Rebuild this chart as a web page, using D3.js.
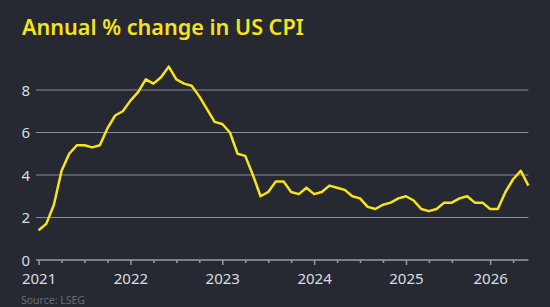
<!DOCTYPE html>
<html>
<head>
<meta charset="utf-8">
<script src="https://cdn.jsdelivr.net/npm/d3@7"></script>
<style>
  html, body { margin: 0; padding: 0; background: #262932; }
  svg { display: block; font-family: "Noto Sans", "Open Sans", sans-serif; }
</style>
</head>
<body>
<svg id="chart" width="550" height="307"></svg>
<script>
// Monthly readings, Jan 2021 - Jun 2026 (no Oct 2025 release)
const months = [
  "2021-01","2021-02","2021-03","2021-04","2021-05","2021-06","2021-07","2021-08","2021-09","2021-10","2021-11","2021-12",
  "2022-01","2022-02","2022-03","2022-04","2022-05","2022-06","2022-07","2022-08","2022-09","2022-10","2022-11","2022-12",
  "2023-01","2023-02","2023-03","2023-04","2023-05","2023-06","2023-07","2023-08","2023-09","2023-10","2023-11","2023-12",
  "2024-01","2024-02","2024-03","2024-04","2024-05","2024-06","2024-07","2024-08","2024-09","2024-10","2024-11","2024-12",
  "2025-01","2025-02","2025-03","2025-04","2025-05","2025-06","2025-07","2025-08","2025-09","2025-11","2025-12",
  "2026-01","2026-02","2026-03","2026-04","2026-05","2026-06"
];
const cpi = [
  1.4, 1.7, 2.6, 4.2, 5.0, 5.4, 5.4, 5.3, 5.4, 6.2, 6.8, 7.0,
  7.5, 7.9, 8.5, 8.3, 8.6, 9.1, 8.5, 8.3, 8.2, 7.7, 7.1, 6.5,
  6.4, 6.0, 5.0, 4.9, 4.0, 3.0, 3.2, 3.7, 3.7, 3.2, 3.1, 3.4,
  3.1, 3.2, 3.5, 3.4, 3.3, 3.0, 2.9, 2.5, 2.4, 2.6, 2.7, 2.9,
  3.0, 2.8, 2.4, 2.3, 2.4, 2.7, 2.7, 2.9, 3.0, 2.7, 2.7,
  2.4, 2.4, 3.2, 3.8, 4.2, 3.5
];
const yTicks = [0, 2, 4, 6, 8];

const svg = d3.select("#chart");
const W = 550, H = 307;

svg.append("rect").attr("width", W).attr("height", H).attr("fill", "#262932");

const x = d3.scalePoint().domain(months).range([38.6, 528.4]);
const y = d3.scaleLinear().domain([0, 8]).range([260, 90]);

// title
svg.append("text")
  .attr("x", 22).attr("y", 35)
  .attr("fill", "#f5e31c")
  .attr("font-size", 21.6).attr("font-weight", 600)
  .text("Annual % change in US CPI");

// gridlines
svg.append("g").selectAll("line")
  .data(yTicks.filter(d => d > 0))
  .join("line")
  .attr("x1", 36).attr("x2", 528.4)
  .attr("y1", d => y(d)).attr("y2", d => y(d))
  .attr("stroke", "#8c8e95").attr("stroke-width", 1.2);

// y labels
svg.append("g").selectAll("text")
  .data(yTicks)
  .join("text")
  .attr("x", 21.5).attr("y", d => y(d) + 5.5)
  .attr("fill", "#dcdde0").attr("font-size", 15)
  .text(d => d);

// x axis: quarterly ticks, labels on January
const tickMonths = months.filter(m => ["01", "04", "07", "10"].includes(m.slice(5)));
const xAxis = d3.axisBottom(x)
  .tickValues(tickMonths)
  .tickSize(5)
  .tickSizeOuter(0)
  .tickFormat(m => m.endsWith("-01") ? m.slice(0, 4) : "");

const gx = svg.append("g")
  .attr("transform", "translate(0,260)")
  .call(xAxis);
gx.select(".domain").attr("stroke", "#9a9ca2").attr("stroke-width", 1.5)
  .attr("d", `M36,0H${x.range()[1]}`);
gx.selectAll(".tick line").attr("stroke", "#9a9ca2").attr("stroke-width", 1.5)
  .attr("y2", m => m.endsWith("-01") ? 5 : 3);
gx.selectAll(".tick text")
  .attr("fill", "#dcdde0").attr("font-size", 15)
  .attr("font-family", "\"Noto Sans\", sans-serif")
  .attr("y", 13.5);

// line
const line = d3.line()
  .x((d, i) => x(months[i]))
  .y(d => y(d));

svg.append("path")
  .datum(cpi)
  .attr("d", line)
  .attr("fill", "none")
  .attr("stroke", "#f7e41c")
  .attr("stroke-width", 2.5)
  .attr("stroke-linejoin", "round");

// source
svg.append("text")
  .attr("x", 21).attr("y", 304)
  .attr("fill", "#6a6c73").attr("font-size", 10.5)
  .text("Source: LSEG");
</script>
</body>
</html>
